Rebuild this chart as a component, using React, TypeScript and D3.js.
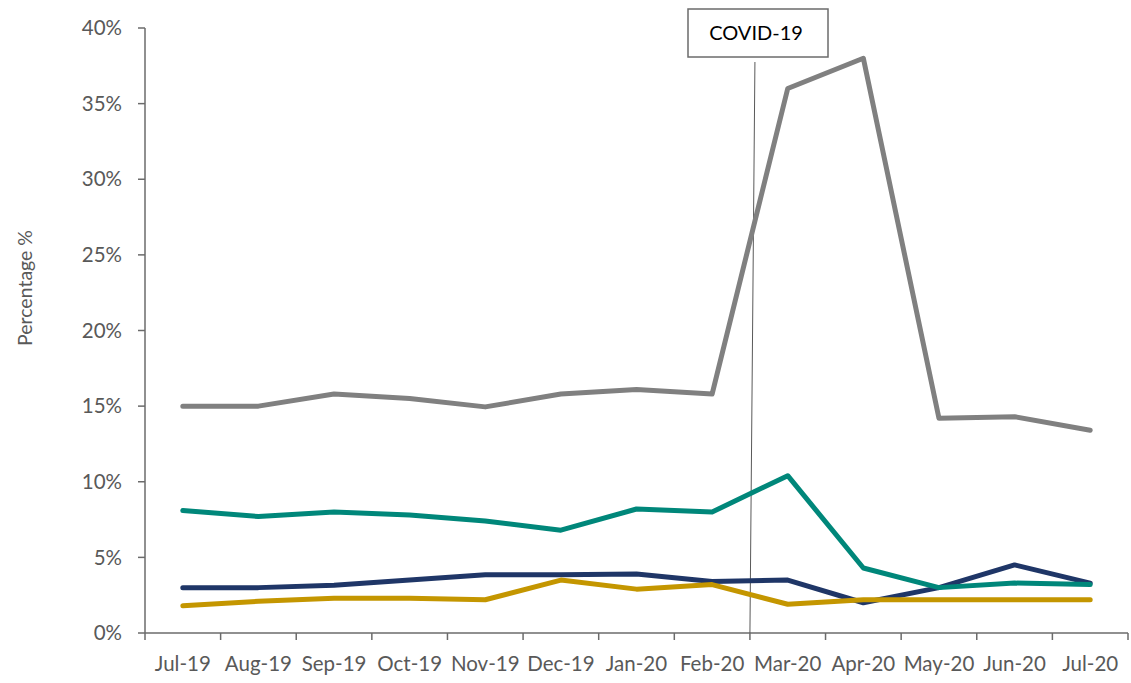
import React from "react";
import * as d3 from "d3";

const months = ["Jul-19","Aug-19","Sep-19","Oct-19","Nov-19","Dec-19","Jan-20","Feb-20","Mar-20","Apr-20","May-20","Jun-20","Jul-20"];
const greySeries = [15.0,15.0,15.8,15.5,14.95,15.8,16.1,15.8,36.0,38.0,14.2,14.3,13.4];
const tealSeries = [8.1,7.7,8.0,7.8,7.4,6.8,8.2,8.0,10.4,4.3,3.0,3.3,3.2];
const navySeries = [3.0,3.0,3.15,3.5,3.85,3.85,3.9,3.4,3.5,2.0,3.0,4.5,3.3];
const goldSeries = [1.8,2.1,2.3,2.3,2.2,3.5,2.9,3.2,1.9,2.2,2.2,2.2,2.2];
const yTicks = [0,5,10,15,20,25,30,35,40];
const annotationLabel = "COVID-19";
const yAxisTitle = "Percentage %";

export default function App() {
  const W = 1131, H = 683;
  const left = 145, right = 1128, top = 28, bottom = 633;
  const x = d3.scaleBand<string>().domain(months).range([left, right]);
  const y = d3.scaleLinear().domain([0, 40]).range([bottom, top]);
  const line = d3.line<number>().x((_, i) => x(months[i])! + x.bandwidth() / 2).y((d) => y(d));
  const series = [
    { data: greySeries, color: "#808080" },
    { data: navySeries, color: "#1f3667" },
    { data: tealSeries, color: "#00877a" },
    { data: goldSeries, color: "#c49600" },
  ];
  const axisColor = "#6b6b6b";
  const textColor = "#595959";
  const font = "Lato, 'Open Sans', sans-serif";
  const boundaries = months.map((m) => x(m)!).concat([right]);
  const covidX = x("Mar-20")!;
  return (
    <svg width={W} height={H} style={{ position: "absolute", left: 0, top: 0, background: "#fff" }}>
      <line x1={left} x2={left} y1={top} y2={bottom} stroke={axisColor} strokeWidth={1.5} />
      {yTicks.map((t) => (
        <g key={t}>
          <line x1={left - 7} x2={left} y1={y(t)} y2={y(t)} stroke={axisColor} strokeWidth={1.5} />
          <text x={122} y={y(t)} dy="0.35em" textAnchor="end" fontFamily={font} fontSize={20.5} fill={textColor}>{t}%</text>
        </g>
      ))}
      <line x1={left} x2={right} y1={bottom} y2={bottom} stroke={axisColor} strokeWidth={1.5} />
      {boundaries.map((b, i) => (
        <line key={i} x1={b} x2={b} y1={bottom} y2={bottom + 7} stroke={axisColor} strokeWidth={1.5} />
      ))}
      {months.map((m) => (
        <text key={m} x={x(m)! + x.bandwidth() / 2} y={671} textAnchor="middle" fontFamily={font} fontSize={20.5} fill={textColor}>{m}</text>
      ))}
      <text transform={`translate(32,288) rotate(-90)`} textAnchor="middle" fontFamily={font} fontSize={19.5} fill={textColor}>{yAxisTitle}</text>
      <line x1={covidX + 5} x2={covidX} y1={62} y2={bottom} stroke="#595959" strokeWidth={1} />
      <rect x={688} y={9} width={140} height={48} fill="#fff" stroke="#6b6b6b" strokeWidth={1.5} />
      <text x={756} y={33} dy="0.35em" textAnchor="middle" fontFamily={font} fontSize={20} fill="#000">{annotationLabel}</text>
      {series.map((s, i) => (
        <path key={i} d={line(s.data)!} fill="none" stroke={s.color} strokeWidth={5} strokeLinejoin="round" strokeLinecap="round" />
      ))}
    </svg>
  );
}
